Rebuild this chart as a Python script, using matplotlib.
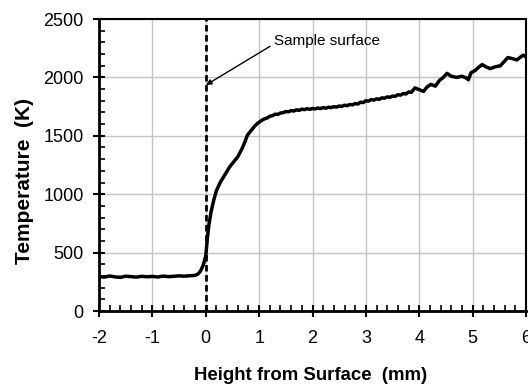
import matplotlib
matplotlib.use("Agg")
import matplotlib.pyplot as plt
from matplotlib.ticker import MultipleLocator

plt.rcParams['font.family'] = ['Liberation Sans', 'DejaVu Sans']
plt.rcParams['axes.unicode_minus'] = False

height_mm = [-2.0, -1.9, -1.8, -1.7, -1.6, -1.5, -1.4, -1.3, -1.2, -1.1, -1.0, -0.9, -0.8, -0.7,
             -0.6, -0.5, -0.4, -0.3, -0.2, -0.15, -0.1, -0.05, 0.0,
             0.03, 0.06, 0.1, 0.15, 0.2, 0.27, 0.35, 0.45, 0.52, 0.6, 0.68, 0.74, 0.78, 0.85, 0.92, 0.98,
             1.05, 1.1, 1.15, 1.2, 1.25, 1.3, 1.35, 1.4, 1.45, 1.5,
             1.55, 1.6, 1.65, 1.7, 1.75, 1.8, 1.85, 1.9, 1.95, 2.0,
             2.05, 2.1, 2.15, 2.2, 2.25, 2.3, 2.35, 2.4, 2.45, 2.5,
             2.55, 2.6, 2.65, 2.7, 2.75, 2.8, 2.85, 2.9, 2.95, 3.0,
             3.05, 3.1, 3.15, 3.2, 3.25, 3.3, 3.35, 3.4, 3.45, 3.5,
             3.55, 3.6, 3.65, 3.7, 3.75, 3.8, 3.85,
             3.92, 4.0, 4.08, 4.15, 4.22, 4.3, 4.38, 4.45, 4.52, 4.6,
             4.7, 4.8, 4.88, 4.92, 4.97, 5.05, 5.12, 5.18, 5.25, 5.33,
             5.42, 5.52, 5.6, 5.66, 5.75, 5.83, 5.9, 5.95, 6.0]
temperature_K = [295, 290, 300, 292, 288, 298, 294, 290, 297, 293, 296, 291, 299, 294,
                 297, 301, 298, 302, 305, 315, 340, 390, 470,
                 620, 740, 850, 950, 1030, 1100, 1160, 1235, 1275, 1320, 1390, 1455, 1505, 1545, 1585, 1610,
                 1632, 1645, 1652, 1668, 1672, 1685, 1683, 1695, 1698, 1708,
                 1705, 1716, 1712, 1722, 1718, 1728, 1724, 1732, 1726, 1734,
                 1730, 1738, 1733, 1742, 1736, 1745, 1741, 1750, 1746, 1755,
                 1752, 1762, 1758, 1768, 1765, 1776, 1772, 1788, 1784, 1800,
                 1797, 1810, 1806, 1816, 1812, 1825, 1822, 1833, 1830, 1840,
                 1838, 1852, 1848, 1862, 1858, 1875, 1872,
                 1910, 1895, 1880, 1920, 1940, 1925, 1975, 2000, 2035, 2010,
                 2000, 2010, 1995, 1980, 2040, 2060, 2090, 2110, 2090, 2075,
                 2090, 2100, 2140, 2170, 2160, 2150, 2175, 2190, 2175]

surface_x = [0, 0]
surface_y = [0, 2500]

fig = plt.figure(figsize=(5.28, 3.84), dpi=100)
ax = fig.add_axes([99/528, (384-311)/384, (526-99)/528, (311-19)/384])

ax.grid(True, which='major', color='#c4c4c4', lw=1, zorder=0)
ax.plot(surface_x, surface_y, color='black', lw=2, ls=(0, (2.3, 1.3)), zorder=2)
ax.plot(height_mm, temperature_K, color='black', lw=2.5, zorder=3, clip_on=True)

ax.set_xlim(-2, 6)
ax.set_ylim(0, 2500)
ax.xaxis.set_major_locator(MultipleLocator(1))
ax.xaxis.set_minor_locator(MultipleLocator(0.2))
ax.yaxis.set_major_locator(MultipleLocator(500))
ax.yaxis.set_minor_locator(MultipleLocator(100))
ax.tick_params(which='major', direction='inout', length=8, width=1.5, labelsize=13, pad=7)
ax.tick_params(axis='x', which='major', pad=10)
ax.tick_params(which='minor', direction='in', length=4, width=1.2)
ax.tick_params(top=False, right=False)

for side in ['left', 'bottom']:
    ax.spines[side].set_linewidth(2)
for side in ['top', 'right']:
    ax.spines[side].set_linewidth(1.5)

ax.set_xlabel('Height from Surface  (mm)', fontsize=13.4, fontweight='bold')
ax.set_ylabel('Temperature  (K)', fontsize=15, fontweight='bold')
ax.xaxis.set_label_coords(0.495, (311-375)/292)
ax.xaxis.label.set_va('center')
ax.yaxis.set_label_coords((25-99)/427, (311-181)/292)
ax.yaxis.label.set_va('center')

ax.annotate('Sample surface', xy=(0.005, 1935), xytext=(1.28, 2311),
            fontsize=11, va='center', ha='left',
            arrowprops=dict(arrowstyle='-|>', color='black', lw=1, shrinkA=1, shrinkB=0,
                            mutation_scale=8, relpos=(0, 0.3)))

fig.savefig('out.png', dpi=100)
